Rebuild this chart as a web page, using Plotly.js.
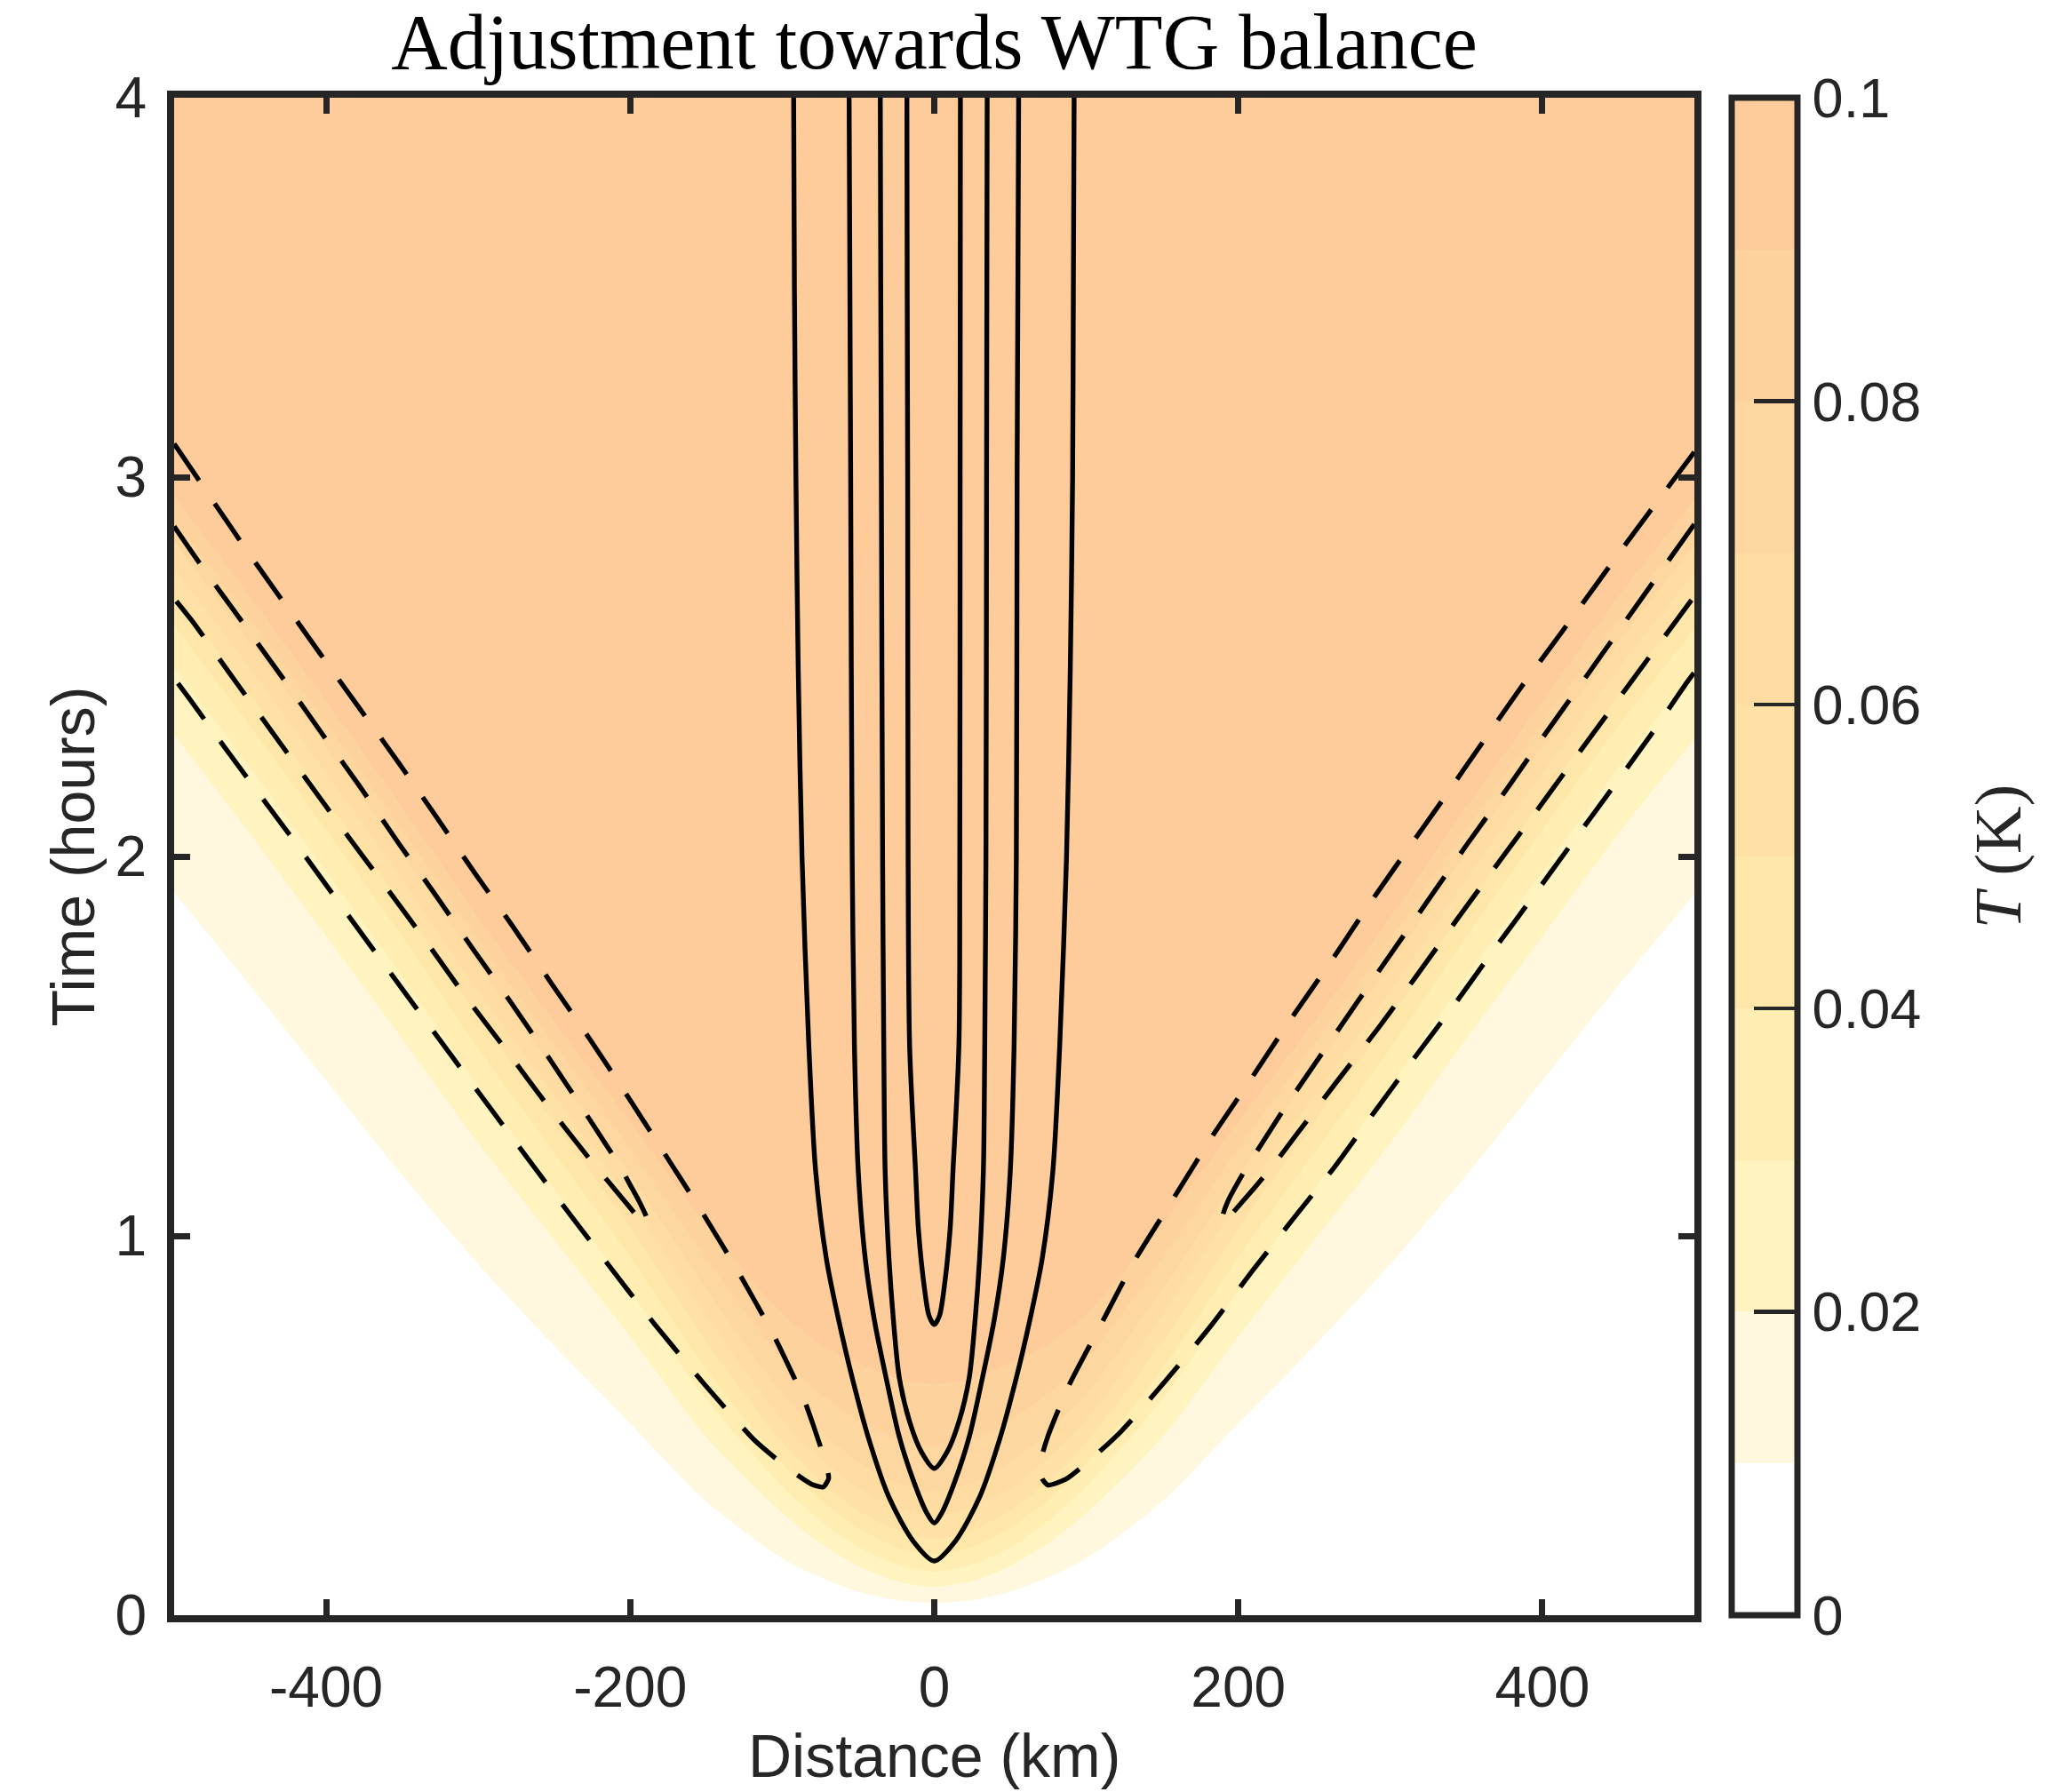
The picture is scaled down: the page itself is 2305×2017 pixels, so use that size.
<!DOCTYPE html>
<html><head><meta charset="utf-8">
<script src="https://cdn.plot.ly/plotly-3.0.1.min.js"></script>
<style>html,body{margin:0;padding:0;background:#fff}#chart{width:2305px;height:2017px}</style>
</head><body><div id="chart"></div>
<script>
// ---- T field: time (hours) at which each T level is reached, per distance (km) ----
const distanceKm = [-500,-450,-400,-350,-300,-250,-200,-150,-100,-75,-50,-25,0,25,50,75,100,150,200,250,300,350,400,450,500];
const levelK = [0.01,0.02,0.03,0.04,0.05,0.06,0.07,0.08,0.09];
const tLevel01 = [1.905,1.66,1.41,1.16,0.925,0.71,0.505,0.30,0.15,0.10,0.062,0.040,0.032,0.040,0.062,0.10,0.15,0.30,0.505,0.71,0.925,1.16,1.41,1.66,1.90];
const tLevel02 = [2.32,2.06,1.79,1.52,1.245,0.99,0.735,0.47,0.27,0.19,0.13,0.09,0.075,0.09,0.13,0.19,0.27,0.47,0.735,0.99,1.245,1.52,1.79,2.06,2.31];
const tLevel03 = [2.50,2.235,1.96,1.685,1.395,1.125,0.855,0.57,0.34,0.25,0.18,0.135,0.115,0.135,0.18,0.25,0.34,0.57,0.855,1.125,1.395,1.685,1.96,2.235,2.49];
const tLevel04 = [2.61,2.345,2.07,1.79,1.495,1.22,0.945,0.65,0.40,0.305,0.23,0.18,0.16,0.18,0.23,0.305,0.40,0.65,0.945,1.22,1.495,1.79,2.07,2.345,2.60];
const tLevel05 = [2.69,2.425,2.15,1.87,1.575,1.30,1.02,0.72,0.455,0.355,0.275,0.225,0.20,0.225,0.275,0.355,0.455,0.72,1.02,1.30,1.575,1.87,2.15,2.425,2.68];
const tLevel06 = [2.76,2.495,2.22,1.94,1.645,1.37,1.09,0.79,0.515,0.415,0.335,0.285,0.26,0.285,0.335,0.415,0.515,0.79,1.09,1.37,1.645,1.94,2.22,2.495,2.75];
const tLevel07 = [2.83,2.565,2.29,2.01,1.715,1.44,1.16,0.86,0.585,0.485,0.405,0.35,0.325,0.35,0.405,0.485,0.585,0.86,1.16,1.44,1.715,2.01,2.29,2.565,2.82];
const tLevel08 = [2.89,2.625,2.35,2.07,1.78,1.505,1.23,0.94,0.675,0.585,0.515,0.465,0.446,0.465,0.515,0.585,0.675,0.94,1.23,1.505,1.78,2.07,2.35,2.625,2.88];
const tLevel09 = [2.95,2.685,2.41,2.13,1.84,1.565,1.30,1.03,0.795,0.715,0.665,0.625,0.61,0.625,0.665,0.715,0.795,1.03,1.30,1.565,1.84,2.13,2.41,2.685,2.94];
const bandColors = ['#FFFFFF','#FFF8DE','#FFF3C0','#FFEDB1','#FFE7AA','#FFE1A6','#FEDCA2','#FED7A0','#FED29D','#FECC9A'];

// ---- overlaid contour lines (solid: positive, dashed: negative) ----
const solid1X = [-92.5,-92,-91,-89.5,-87,-82.5,-78,-71,-63,-54,-43.5,-30,-14,0,14,30,43.5,54,63,71,78,82.5,87,89.5,91,91.5,92];
const solid1T = [4.0,3.5,3.0,2.5,2.0,1.5,1.17,0.94,0.78,0.626,0.47,0.313,0.196,0.143,0.196,0.313,0.47,0.626,0.78,0.94,1.17,1.5,2.0,2.5,3.0,3.5,4.0];
const solid2X = [-56,-55.5,-55,-54,-52.5,-50,-45.4,-39.5,-31.7,-23,-13.3,-5,0,5,13.3,23,31.7,39.5,45.4,50,52.5,54,54.5,55,55.5];
const solid2T = [4.0,3.5,3.0,2.0,1.5,1.17,0.94,0.78,0.626,0.47,0.35,0.27,0.243,0.27,0.35,0.47,0.626,0.78,0.94,1.17,1.5,2.0,3.0,3.5,4.0];
const solid3X = [-35.5,-35.2,-34.8,-34,-33.2,-32.3,-29.8,-26.9,-23,-16.2,-8.4,0,8.4,16.2,23,26.9,29.8,32.3,33.2,34,34.4,34.6,34.8];
const solid3T = [4.0,3.5,3.0,2.0,1.5,1.17,0.94,0.78,0.626,0.51,0.43,0.387,0.43,0.51,0.626,0.78,0.94,1.17,1.5,2.0,3.0,3.5,4.0];
const solid4X = [-18,-17.8,-17.5,-17.2,-16.2,-12.3,-10.4,-6.4,-3.5,0,3.5,6.4,10.4,12.3,16.2,16.8,17,17.1,17.2];
const solid4T = [4.0,3.5,3.0,2.0,1.5,1.17,1.016,0.86,0.79,0.766,0.79,0.86,1.016,1.17,1.5,2.0,3.0,3.5,4.0];

const dashOuterLeftX = [-500,-455,-403.5,-352,-328.5,-301.7,-278.2,-251.4,-227.3,-201.1,-177.6,-151.9,-129.2,-105.8,-85.9,-79.5,-70.7,-69.5,-73,-80.5,-92,-104.8,-118.4,-150.6,-183.7,-202.2,-215.6,-263.7,-315.8,-369.3,-421.3,-467.2,-490.7,-500];
const dashOuterLeftT = [3.088,2.823,2.532,2.245,2.11,1.953,1.821,1.663,1.523,1.364,1.218,1.057,0.907,0.739,0.571,0.5,0.391,0.36,0.338,0.345,0.375,0.415,0.462,0.606,0.766,0.86,0.93,1.184,1.465,1.756,2.042,2.29,2.42,2.47];
const dashInnerLeftX = [-500,-482.9,-455,-429.2,-401.9,-378.8,-352,-329.2,-302.2,-279.8,-253,-231.3,-205.5,-201.1,-194,-188.5,-189.5,-194,-201.1,-226.8,-255.9,-280.5,-309.1,-332.3,-360.6,-384.5,-412.4,-435.9,-463.9,-487.4,-500];
const dashInnerLeftT = [2.87,2.771,2.617,2.474,2.319,2.19,2.033,1.905,1.749,1.623,1.466,1.335,1.175,1.142,1.09,1.04,1.028,1.045,1.079,1.203,1.352,1.484,1.635,1.765,1.919,2.047,2.2,2.33,2.485,2.617,2.68];
const dashOuterRightX = [500,456,413.6,385.3,361.6,334.4,311.8,284.6,260.9,233.8,209.6,182.8,157.1,131.4,110.8,88.5,74.8,69.7,71,74.8,86.8,102.2,122.8,152,182.8,208.6,237.7,263.4,290.7,314.7,343.5,367.2,395.5,419.3,447.5,471.3,496.2,500];
const dashOuterRightT = [3.066,2.83,2.596,2.442,2.306,2.149,2.021,1.865,1.723,1.567,1.421,1.262,1.097,0.932,0.775,0.605,0.472,0.40,0.36,0.343,0.359,0.408,0.484,0.617,0.767,0.904,1.053,1.182,1.333,1.463,1.617,1.749,1.903,2.034,2.188,2.32,2.465,2.485];
const dashInnerRightX = [500,450.4,427.9,400.5,377.9,350.3,327.7,300.5,278.4,251.5,229.7,203.4,193,189.5,190,194,210.3,222.2,239.4,264.3,293.3,316.8,344.6,367.9,396.2,419.3,447.5,470.8,500];
const dashInnerRightT = [2.876,2.596,2.469,2.315,2.185,2.031,1.901,1.744,1.617,1.46,1.332,1.166,1.09,1.05,1.03,1.05,1.125,1.182,1.273,1.404,1.554,1.683,1.838,1.966,2.12,2.247,2.401,2.528,2.686];

// ---- ticks ----
const xTickVals = [-400,-200,0,200,400];
const xTickText = ['-400','-200','0','200','400'];
const yTickVals = [0,1,2,3,4];
const yTickText = ['0','1','2','3','4'];
const cbTickVals = [0,0.02,0.04,0.06,0.08,0.1];
const cbTickText = ['0','0.02','0.04','0.06','0.08','0.1'];

const SANS = 'Liberation Sans, Arial, Helvetica, sans-serif';
const SERIF = 'Liberation Serif, Times New Roman, serif';
const AXC = '#262626';

const levels = [tLevel01,tLevel02,tLevel03,tLevel04,tLevel05,tLevel06,tLevel07,tLevel08,tLevel09];
const traces = [];
for (let i = levels.length - 1; i >= 0; i--) {
  traces.push({
    type: 'scatter', mode: 'lines', x: distanceKm, y: levels[i],
    name: 'T = ' + levelK[i] + ' K',
    line: {width: 0, shape: 'spline', smoothing: 0.8, color: bandColors[i]},
    fill: 'tozeroy', fillcolor: bandColors[i], hoverinfo: 'skip', showlegend: false
  });
}
// discrete colorscale for colorbar
const cs = [];
for (let i = 0; i < bandColors.length; i++) {
  cs.push([i / bandColors.length, bandColors[i]]);
  cs.push([(i + 1) / bandColors.length, bandColors[i]]);
}
traces.push({
  type: 'scatter', mode: 'markers', x: [null], y: [null], showlegend: false, hoverinfo: 'skip',
  marker: {
    color: [0], colorscale: cs, cmin: 0, cmax: 0.1, showscale: true, size: 1,
    colorbar: {
      x: 1.0245, xanchor: 'left', y: 0.5, yanchor: 'middle', len: 1, lenmode: 'fraction',
      thickness: 74, thicknessmode: 'pixels', outlinewidth: 7, outlinecolor: AXC,
      xpad: 0, ypad: 0, tickvals: cbTickVals, ticktext: cbTickText,
      ticks: 'inside', ticklen: 52, tickwidth: 4.5, tickcolor: AXC,
      tickfont: {family: SANS, size: 63, color: AXC}
    }
  }
});
function addLine(x, y, dashed) {
  traces.push({
    type: 'scatter', mode: 'lines', x: x, y: y, showlegend: false, hoverinfo: 'skip',
    line: {color: '#000000', width: 5.4, shape: 'spline', smoothing: dashed ? 0.6 : 0.8,
           dash: dashed ? '50px,31px' : 'solid'}
  });
}
addLine(solid1X, solid1T, false);
addLine(solid2X, solid2T, false);
addLine(solid3X, solid3T, false);
addLine(solid4X, solid4T, false);
addLine(dashOuterLeftX, dashOuterLeftT, true);
addLine(dashInnerLeftX, dashInnerLeftT, true);
addLine(dashOuterRightX, dashOuterRightT, true);
addLine(dashInnerRightX, dashInnerRightT, true);

const axisCommon = {
  ticks: 'inside', ticklen: 18, tickwidth: 7, tickcolor: AXC,
  showline: true, linewidth: 8, linecolor: AXC, mirror: 'allticks',
  showgrid: false, zeroline: false, fixedrange: true,
  tickfont: {family: SANS, size: 64, color: AXC}
};
const layout = {
  width: 2305, height: 2017,
  margin: {l: 196, r: 398, t: 110, b: 199, pad: 0},
  paper_bgcolor: '#FFFFFF', plot_bgcolor: bandColors[9],
  showlegend: false,
  title: {text: 'Adjustment towards WTG balance', font: {family: SERIF, size: 88, color: '#000'},
          x: 0.5, xref: 'paper', y: 0.977, yref: 'container', yanchor: 'middle'},
  xaxis: Object.assign({}, axisCommon, {range: [-500, 500], tickvals: xTickVals, ticktext: xTickText, ticklabelstandoff: 18}),
  yaxis: Object.assign({}, axisCommon, {range: [0, 4], tickvals: yTickVals, ticktext: yTickText, ticklabelstandoff: 10}),
  annotations: [
    {text: 'Distance (km)', xref: 'paper', yref: 'paper', x: 0.5, y: -0.0925, showarrow: false,
     xanchor: 'center', yanchor: 'middle', font: {family: SANS, size: 68, color: AXC}},
    {text: 'Time (hours)', xref: 'paper', yref: 'paper', x: -0.0669, y: 0.5, showarrow: false, textangle: -90,
     xanchor: 'center', yanchor: 'middle', font: {family: SANS, size: 68, color: AXC}},
    {text: '<i>T</i> (K)', xref: 'paper', yref: 'paper', x: 1.2, y: 0.5, showarrow: false, textangle: -90,
     xanchor: 'center', yanchor: 'middle', font: {family: SERIF, size: 74, color: AXC}}
  ]
};
Plotly.newPlot('chart', traces, layout, {staticPlot: true, displayModeBar: false});
</script>
</body></html>
